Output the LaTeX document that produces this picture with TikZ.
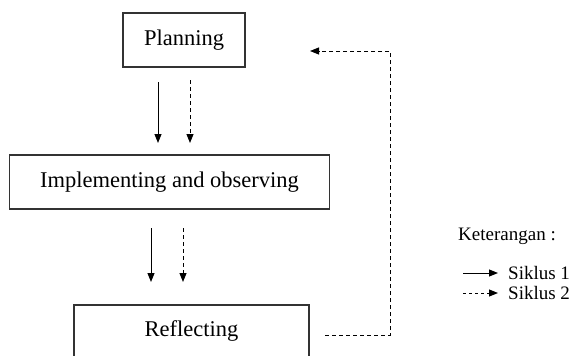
\documentclass[tikz,border=0pt]{standalone}
\usepackage{fontspec}
\setmainfont{Liberation Serif}
\usetikzlibrary{arrows.meta}
\begin{document}
\begin{tikzpicture}[x=1pt,y=-1pt,
  box/.style={draw=black!80,line width=1.1pt,inner sep=0pt,font=\fontsize{22.5}{26}\selectfont},
  solidarr/.style={line width=1pt,-{Triangle[length=9pt,width=7pt]}},
  dasharr/.style={line width=1pt,dash pattern=on 4pt off 3pt,-{Triangle[length=9pt,width=7pt]}},
  lbl/.style={font=\fontsize{19}{22}\selectfont,inner sep=0pt}]
\useasboundingbox (0,0) rectangle (576,356);
\node[box,minimum width=122pt,minimum height=54pt] (plan) at (184,40) {Planning};
\node[box,minimum width=320pt,minimum height=54pt] (impl) at (169.5,182) {Implementing and observing};
\draw[draw=black!80,line width=1.1pt] (74,362) |- (309,305) -- (309,362);
\node[font=\fontsize{22.5}{26}\selectfont,inner sep=0pt,anchor=base] (refl) at (191.5,336) {Reflecting};
% arrows between boxes
\coordinate (a1s) at (158,82); \coordinate (a1e) at (158,143);
\coordinate (b1s) at (190,80); \coordinate (b1e) at (190,143);
\coordinate (a2s) at (151,228); \coordinate (a2e) at (151,282);
\coordinate (b2s) at (183,228); \coordinate (b2e) at (183,282);
\draw[solidarr] (a1s) -- (a1e);
\draw[dasharr] (b1s) -- (b1e);
\draw[solidarr] (a2s) -- (a2e);
\draw[dasharr] (b2s) -- (b2e);
% feedback
\coordinate (f0) at (325,335); \coordinate (f1) at (390,335);
\coordinate (f2) at (390,51); \coordinate (f3) at (310,51);
\draw[dasharr] (f0) -- (f1) -- (f2) -- (f3);
% legend
\node[lbl,anchor=west] (ket) at (458,236) {Keterangan :};
\coordinate (l1s) at (463,273); \coordinate (l1e) at (498,273);
\coordinate (l2s) at (463,293); \coordinate (l2e) at (498,293);
\draw[solidarr] (l1s) -- (l1e);
\draw[dasharr,dash pattern=on 3pt off 3pt] (l2s) -- (l2e);
\node[lbl,anchor=west] (s1) at (508,273) {Siklus 1};
\node[lbl,anchor=west] (s2) at (508,293) {Siklus 2};
\end{tikzpicture}
\end{document}
